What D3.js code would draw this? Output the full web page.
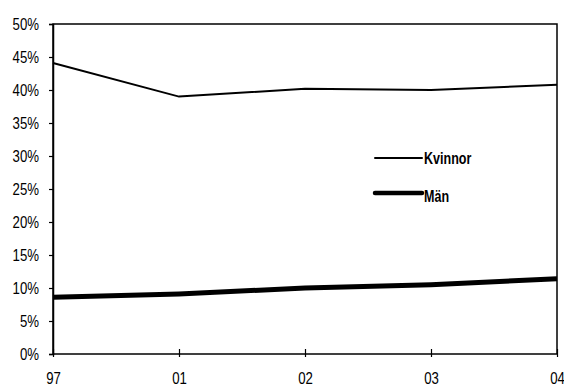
<!DOCTYPE html>
<html><head><meta charset="utf-8">
<script src="https://cdn.jsdelivr.net/npm/d3@7"></script>
<style>
body{margin:0;background:#fff;}
text{font-family:"Liberation Sans",Arial,sans-serif;}
</style></head>
<body><svg id="c" width="564" height="385"></svg>
<script>
const categories = ["97","01","02","03","04"];
const kvinnor = [44.1, 39.0, 40.2, 40.0, 40.8];
const man = [8.6, 9.1, 10.0, 10.5, 11.4];
const yTicks = [0,5,10,15,20,25,30,35,40,45,50];
const seriesNames = ["Kvinnor","Män"];

const svg = d3.select("#c");
const L=53, R=557, T=24, B=354;
const SX=0.8, FS=16.5;
const x = d3.scalePoint().domain(categories).range([L,R]);
const y = d3.scaleLinear().domain([0,50]).range([B,T]);

// frame
svg.append("rect").attr("x",L).attr("y",T).attr("width",R-L).attr("height",B-T)
  .attr("fill","none").attr("stroke","#000").attr("stroke-width",1.5);

// y axis
const ya = svg.append("g").attr("transform",`translate(${L},0)`)
  .call(d3.axisLeft(y).tickValues(yTicks).tickFormat(d=>d+"%").tickSize(4));
ya.select(".domain").attr("stroke-width",1.5);
ya.selectAll("line").attr("stroke-width",1.2);
ya.selectAll("text").attr("font-size",FS).attr("fill","#000")
  .attr("x",-14/SX).attr("dy","0.35em").attr("transform",`scale(${SX},1)`);

// x axis
const xa = svg.append("g").attr("transform",`translate(0,${B})`)
  .call(d3.axisBottom(x).tickSize(0));
xa.select(".domain").remove();
xa.selectAll("text").attr("font-size",FS).attr("fill","#000")
  .attr("y",30).attr("dy",null).attr("transform",`scale(${SX},1)`);
xa.selectAll(".tick").append("line").attr("y1",-5).attr("y2",3).attr("stroke","#000").attr("stroke-width",1.2);

const line = d3.line().x((d,i)=>x(categories[i])).y(d=>y(d));
svg.append("path").datum(kvinnor).attr("d",line).attr("fill","none").attr("stroke","#000").attr("stroke-width",2);
svg.append("path").datum(man).attr("d",line).attr("fill","none").attr("stroke","#000").attr("stroke-width",5).attr("stroke-linejoin","round");

// legend
const lg = [{n:seriesNames[0],w:2,y:158,ty:164.3},{n:seriesNames[1],w:4.5,y:193,ty:202.3}];
lg.forEach(d=>{
  svg.append("line").attr("x1",375).attr("x2",422).attr("y1",d.y).attr("y2",d.y)
    .attr("stroke","#000").attr("stroke-width",d.w).attr("stroke-linecap","round");
  svg.append("text").attr("transform",`translate(424,${d.ty}) scale(0.76,1)`)
    .attr("font-size",FS).attr("font-weight","bold").text(d.n);
});
</script></body></html>
